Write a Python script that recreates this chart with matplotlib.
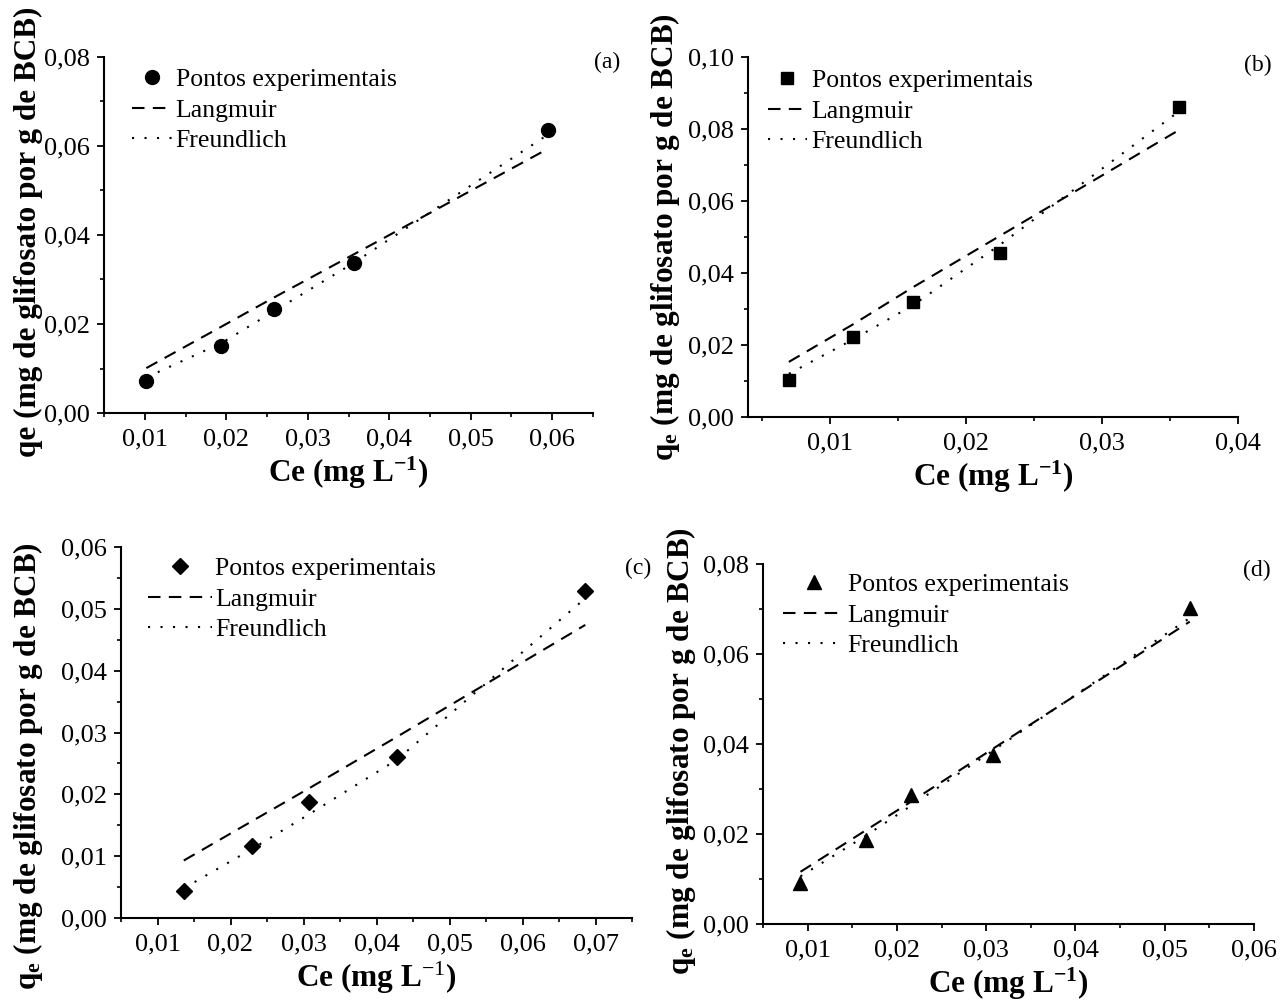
import matplotlib
matplotlib.use("Agg")
import matplotlib.pyplot as plt
from matplotlib.ticker import MultipleLocator, FuncFormatter

plt.rcParams['font.family'] = 'Liberation Serif'
plt.rcParams['mathtext.fontset'] = 'custom'
plt.rcParams['mathtext.rm'] = 'Liberation Serif'
plt.rcParams['mathtext.it'] = 'Liberation Serif:italic'
plt.rcParams['mathtext.bf'] = 'Liberation Serif:bold'
plt.rcParams['mathtext.default'] = 'bf'

# Data (Ce in mg/L, qe in mg/g)
ce_a = [0.0102, 0.0194, 0.0258, 0.0357, 0.0595]
qe_a = [0.0073, 0.0150, 0.0233, 0.0336, 0.0636]
lang_a = [0.0101, 0.0194, 0.0259, 0.0357, 0.0594]
freu_a = [0.0080, 0.0157, 0.0228, 0.0338, 0.0626]

ce_b = [0.0070, 0.0117, 0.0161, 0.0225, 0.0357]
qe_b = [0.0104, 0.0223, 0.0320, 0.0456, 0.0861]
lang_b = [0.0153, 0.0257, 0.0360, 0.0503, 0.0798]
freu_b = [0.0120, 0.0215, 0.0310, 0.0478, 0.0850]

ce_c = [0.0136, 0.0230, 0.0308, 0.0428, 0.0686]
qe_c = [0.0043, 0.0116, 0.0188, 0.0261, 0.0529]
lang_c = [0.0093, 0.0157, 0.0210, 0.0293, 0.0474]
freu_c = [0.0048, 0.0112, 0.0168, 0.0256, 0.0517]

ce_d = [0.0092, 0.0165, 0.0216, 0.0308, 0.0528]
qe_d = [0.0091, 0.0187, 0.0287, 0.0376, 0.0702]
lang_d = [0.0116, 0.0208, 0.0272, 0.0390, 0.0672]
freu_d = [0.0106, 0.0196, 0.0263, 0.0386, 0.0680]

legend_labels = ['Pontos experimentais', 'Langmuir', 'Freundlich']

W, H = 1287, 1005
fig = plt.figure(figsize=(W / 100, H / 100), dpi=100)


def px_rect(x0, y_top, x1, y_bot):
    return [x0 / W, 1 - y_bot / H, (x1 - x0) / W, (y_bot - y_top) / H]


qe_sub = r'q$_{e}$ (mg de glifosato por g de BCB)'
ce_big = r'Ce (mg L$^{-1}$)'
ce_small = r'Ce (mg L$^{\mathrm{-1}}$)'

panels = [
    dict(ce=ce_a, qe=qe_a, lang=lang_a, freu=freu_a, marker='o', ms=10,
         rect=px_rect(104, 57, 593, 413), xlim=(0.005, 0.065), ylim=(0, 0.08),
         xmaj=0.01, ymaj=0.02, ylabel='qe (mg de glifosato por g de BCB)',
         xlabel=ce_big, ylab_pos=(-0.125, 0.51), tag='(a)', tag_xy=(607, 62),
         leg_xy=(132, 68), hl=1.55, htp=0.15),
    dict(ce=ce_b, qe=qe_b, lang=lang_b, freu=freu_b, marker='s', ms=9,
         rect=px_rect(748, 57, 1238, 417), xlim=(0.004, 0.04), ylim=(0, 0.10),
         xmaj=0.01, ymaj=0.02, ylabel=qe_sub,
         xlabel=ce_big, ylab_pos=(-0.135, 0.5), tag='(b)', tag_xy=(1258, 65),
         leg_xy=(768, 69), hl=1.5, htp=0.2),
    dict(ce=ce_c, qe=qe_c, lang=lang_c, freu=freu_c, marker='D', ms=8,
         rect=px_rect(121, 547, 632, 918), xlim=(0.005, 0.075), ylim=(0, 0.06),
         xmaj=0.01, ymaj=0.01, ylabel=qe_sub,
         xlabel=ce_small, ylab_pos=(-0.149, 0.41), tag='(c)', tag_xy=(638, 568),
         leg_xy=(148, 557), hl=2.5, htp=0.12),
    dict(ce=ce_d, qe=qe_d, lang=lang_d, freu=freu_d, marker='^', ms=10,
         rect=px_rect(763, 564, 1254, 924), xlim=(0.005, 0.06), ylim=(0, 0.08),
         xmaj=0.01, ymaj=0.02, ylabel=qe_sub,
         xlabel=ce_big, ylab_pos=(-0.132, 0.48), tag='(d)', tag_xy=(1257, 570),
         leg_xy=(783, 573), hl=2.4, htp=0.12),
]

comma = FuncFormatter(lambda v, p: ('%.2f' % v).replace('.', ','))

for p in panels:
    ax = fig.add_axes(p['rect'])
    ln_l, = ax.plot(p['ce'], p['lang'], color='black', lw=1.5,
                    linestyle=(0, (6, 4)))
    ln_f, = ax.plot(p['ce'], p['freu'], color='black', lw=1.5,
                    linestyle=(0, (1, 5)))
    pts, = ax.plot(p['ce'], p['qe'], linestyle='none', marker=p['marker'],
                   ms=p['ms'], color='black', zorder=5)

    ax.xaxis.set_major_locator(MultipleLocator(p['xmaj']))
    ax.xaxis.set_minor_locator(MultipleLocator(p['xmaj'] / 2))
    ax.yaxis.set_major_locator(MultipleLocator(p['ymaj']))
    ax.yaxis.set_minor_locator(MultipleLocator(p['ymaj'] / 2))
    ax.xaxis.set_major_formatter(comma)
    ax.yaxis.set_major_formatter(comma)
    ax.set_xlim(*p['xlim'])
    ax.set_ylim(*p['ylim'])

    for side in ['top', 'right']:
        ax.spines[side].set_visible(False)
    for side in ['left', 'bottom']:
        ax.spines[side].set_linewidth(1.5)
    ax.tick_params(which='major', direction='out', length=5, width=1.3,
                   labelsize=19)
    ax.tick_params(axis='x', which='major', pad=6)
    ax.tick_params(axis='y', which='major', pad=5)
    ax.tick_params(which='minor', direction='out', length=3, width=1.2)

    ax.set_xlabel(p['xlabel'], fontsize=22.5, fontweight='bold', labelpad=3)
    ax.set_ylabel(p['ylabel'], fontsize=22.5, fontweight='bold')
    ax.yaxis.set_label_coords(*p['ylab_pos'])

    ax.legend([pts, ln_l, ln_f], legend_labels, loc='upper left',
              bbox_to_anchor=(p['leg_xy'][0] / W, 1 - p['leg_xy'][1] / H),
              bbox_transform=fig.transFigure, frameon=False, borderpad=0,
              borderaxespad=0, handlelength=p['hl'], handletextpad=p['htp'],
              labelspacing=0.3, fontsize=18.5, numpoints=1)

    fig.text(p['tag_xy'][0] / W, 1 - p['tag_xy'][1] / H, p['tag'],
             ha='center', va='center', fontsize=17)

fig.savefig('out.png', dpi=100)
